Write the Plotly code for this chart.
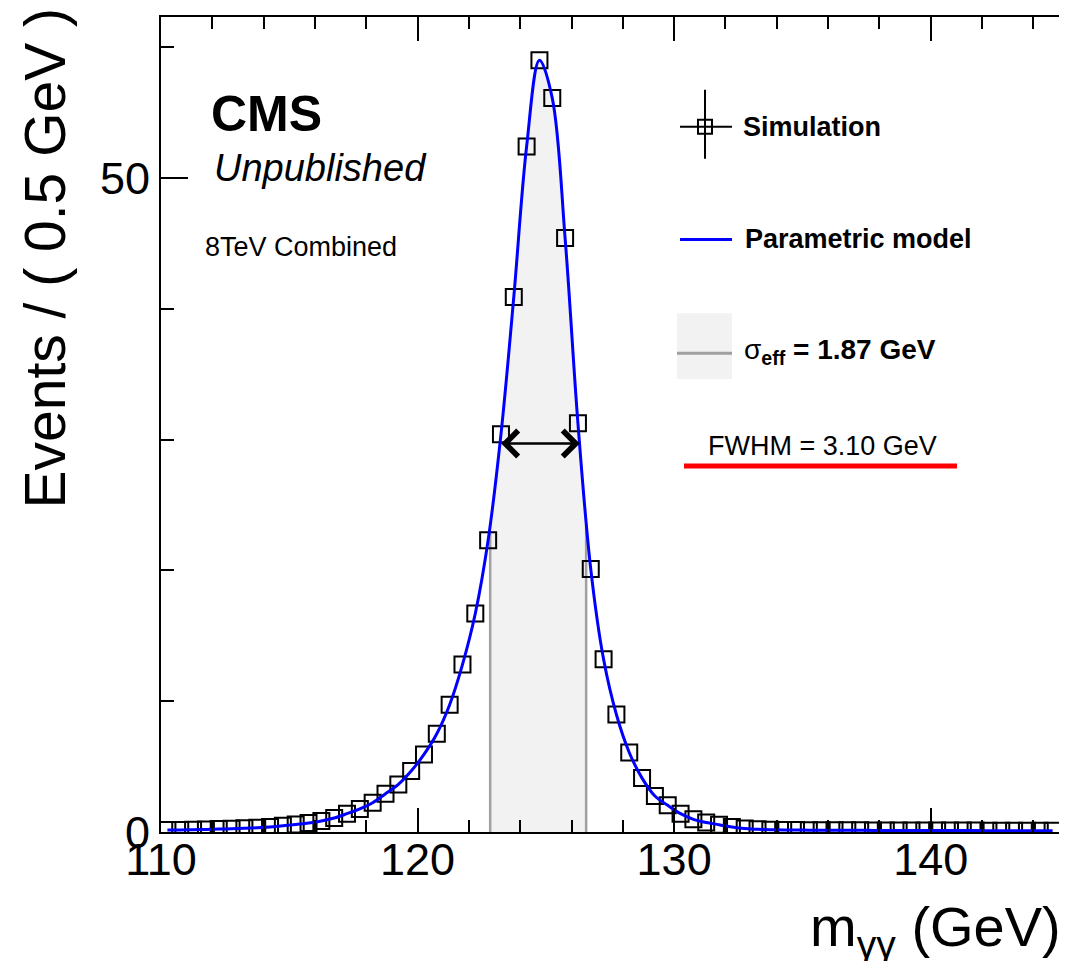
import plotly.graph_objects as go

# ---------------- data ----------------
sim_x = [110.25, 110.75, 111.25, 111.75, 112.25, 112.75, 113.25, 113.75, 114.25, 114.75,
         115.25, 115.75, 116.25, 116.75, 117.25, 117.75, 118.25, 118.75, 119.25, 119.75,
         120.25, 120.75, 121.25, 121.75, 122.25, 122.75, 123.25, 123.75, 124.25, 124.75,
         125.25, 125.75, 126.25, 126.75, 127.25, 127.75, 128.25, 128.75, 129.25, 129.75,
         130.25, 130.75, 131.25, 131.75, 132.25, 132.75, 133.25, 133.75, 134.25, 134.75,
         135.25, 135.75, 136.25, 136.75, 137.25, 137.75, 138.25, 138.75, 139.25, 139.75,
         140.25, 140.75, 141.25, 141.75, 142.25, 142.75, 143.25, 143.75, 144.25, 144.75]
sim_y = [0.15, 0.16, 0.18, 0.20, 0.22, 0.25, 0.28, 0.32, 0.38, 0.47,
         0.58, 0.69, 0.84, 1.07, 1.40, 1.76, 2.24, 2.93, 3.64, 4.66,
         5.93, 7.51, 9.73, 12.8, 16.7, 22.3, 30.4, 40.9, 52.4, 59.0,
         56.1, 45.4, 31.25, 20.1, 13.2, 8.98, 6.08, 4.12, 2.75, 2.04,
         1.40, 0.97, 0.72, 0.56, 0.38, 0.26, 0.21, 0.18, 0.16, 0.15,
         0.14, 0.14, 0.13, 0.13, 0.13, 0.12, 0.12, 0.12, 0.12, 0.11,
         0.11, 0.11, 0.11, 0.11, 0.10, 0.10, 0.10, 0.10, 0.10, 0.10]

sigma_eff_bounds = [122.83, 126.57]     # sigma_eff window (GeV)
sigma_eff_heights = [23.0, 23.5]        # model height at window edges
fwhm_bounds = [123.2, 126.32]           # FWHM arrow ends (GeV)
half_max = 29.7

x_range = [110, 145]
y_range = [0, 62.3]
x_tickvals = [110, 120, 130, 140]
y_tickvals = [0, 50]

legend_sim = "Simulation"
legend_model = "Parametric model"
legend_sigma = "σ<b><sub>eff</sub> = 1.87 GeV</b>"
legend_fwhm = "FWHM = 3.10 GeV"

# ---------------- figure geometry ----------------
# The page body has an 8px margin, so the figure is drawn 8px smaller and
# all screen-pixel positions below are given in window coordinates.
OFF = 8
WIN_W, WIN_H = 1067, 961
W, H = WIN_W - OFF, WIN_H - OFF
L, R, T, B = 161, 1059, 15, 832          # plot area in window pixels
FONT = "Liberation Sans, Arial, Helvetica, sans-serif"


def px(x):
    return (x - L) / (R - L)


def py(y):
    return (B - y) / (B - T)


fig = go.Figure()

# shaded sigma_eff region under model
in_win = [(x, y) for x, y in zip(sim_x, sim_y) if sigma_eff_bounds[0] < x < sigma_eff_bounds[1]]
fill_x = [sigma_eff_bounds[0]] + [p[0] for p in in_win] + [sigma_eff_bounds[1]]
fill_y = [sigma_eff_heights[0]] + [p[1] for p in in_win] + [sigma_eff_heights[1]]
fig.add_trace(go.Scatter(x=fill_x, y=fill_y, mode="lines", line=dict(width=0, shape="spline"),
                         fill="tozeroy", fillcolor="#f2f2f2", hoverinfo="skip", showlegend=False))

# grey edge lines
for xb, hb in zip(sigma_eff_bounds, sigma_eff_heights):
    fig.add_trace(go.Scatter(x=[xb, xb], y=[0, hb], mode="lines",
                             line=dict(color="#a0a0a0", width=2.5), showlegend=False, hoverinfo="skip"))

# simulation markers
fig.add_trace(go.Scatter(x=sim_x, y=sim_y, mode="markers",
                         marker=dict(symbol="square-open", size=16, color="black",
                                     line=dict(color="black", width=2)),
                         showlegend=False))

# parametric model
fig.add_trace(go.Scatter(x=sim_x, y=sim_y, mode="lines",
                         line=dict(color="#0000ff", width=3, shape="spline", smoothing=1.0),
                         showlegend=False))

shapes = []
annotations = []

# FWHM double arrow
annotations.append(dict(x=fwhm_bounds[1], y=half_max, ax=fwhm_bounds[0], ay=half_max,
                        xref="x", yref="y", axref="x", ayref="y", text="",
                        showarrow=True, arrowside="end+start", arrowhead=4, startarrowhead=4,
                        arrowwidth=2.5, arrowsize=2, startarrowsize=2, arrowcolor="black",
                        standoff=0, startstandoff=0))

# ---- legend (drawn manually) ----
# Simulation
shapes.append(dict(type="line", xref="paper", yref="paper", x0=px(680), x1=px(732), y0=py(125), y1=py(125),
                   line=dict(color="black", width=2)))
shapes.append(dict(type="line", xref="paper", yref="paper", x0=px(705), x1=px(705), y0=py(88), y1=py(157),
                   line=dict(color="black", width=2)))
shapes.append(dict(type="rect", xref="paper", yref="paper", x0=px(698), x1=px(712), y0=py(118), y1=py(132),
                   line=dict(color="black", width=2)))
annotations.append(dict(x=px(741), y=py(125), xref="paper", yref="paper", xanchor="left", yanchor="middle",
                        text="<b>" + legend_sim + "</b>", showarrow=False,
                        font=dict(family=FONT, size=27, color="black")))
# Parametric model
shapes.append(dict(type="line", xref="paper", yref="paper", x0=px(680), x1=px(732), y0=py(238), y1=py(238),
                   line=dict(color="#0000ff", width=3)))
annotations.append(dict(x=px(743), y=py(238), xref="paper", yref="paper", xanchor="left", yanchor="middle",
                        text="<b>" + legend_model + "</b>", showarrow=False,
                        font=dict(family=FONT, size=27, color="black")))
# sigma_eff
shapes.append(dict(type="rect", xref="paper", yref="paper", x0=px(677), x1=px(732), y0=py(312), y1=py(378),
                   fillcolor="#f2f2f2", line=dict(width=0)))
shapes.append(dict(type="line", xref="paper", yref="paper", x0=px(677), x1=px(732), y0=py(352), y1=py(352),
                   line=dict(color="#a0a0a0", width=3)))
annotations.append(dict(x=px(742), y=py(350), xref="paper", yref="paper", xanchor="left", yanchor="middle",
                        text=legend_sigma, showarrow=False,
                        font=dict(family=FONT, size=28, color="black")))
# FWHM
annotations.append(dict(x=px(822), y=py(445), xref="paper", yref="paper", xanchor="center", yanchor="middle",
                        text=legend_fwhm, showarrow=False,
                        font=dict(family=FONT, size=27, color="black")))
shapes.append(dict(type="line", xref="paper", yref="paper", x0=px(684), x1=px(957), y0=py(465), y1=py(465),
                   line=dict(color="#ff0000", width=5)))

# ---- CMS labels ----
annotations.append(dict(x=px(209), y=py(112), xref="paper", yref="paper", xanchor="left", yanchor="middle",
                        text="<b>CMS</b>", showarrow=False, font=dict(family=FONT, size=50, color="black")))
annotations.append(dict(x=px(212), y=py(166), xref="paper", yref="paper", xanchor="left", yanchor="middle",
                        text="<i>Unpublished</i>", showarrow=False, font=dict(family=FONT, size=38, color="black")))
annotations.append(dict(x=px(203), y=py(246), xref="paper", yref="paper", xanchor="left", yanchor="middle",
                        text="8TeV Combined", showarrow=False, font=dict(family=FONT, size=27, color="black")))

# ---- axis titles ----
annotations.append(dict(x=px(45), y=py(4), xref="paper", yref="paper", xanchor="center", yanchor="top",
                        text="Events / ( 0.5 GeV )", textangle=-90, showarrow=False,
                        font=dict(family=FONT, size=57, color="black")))
annotations.append(dict(x=px(1063), y=py(893), xref="paper", yref="paper", xanchor="right", yanchor="top",
                        text="m<sub>γγ</sub> (GeV)", showarrow=False,
                        font=dict(family=FONT, size=56, color="black")))

fig.update_layout(
    width=W, height=H,
    margin=dict(l=L - OFF, r=WIN_W - R, t=T - OFF, b=WIN_H - B, pad=0),
    paper_bgcolor="white", plot_bgcolor="white",
    shapes=shapes, annotations=annotations,
    showlegend=False,
    font=dict(family=FONT, color="black"),
)

fig.update_xaxes(range=x_range, tickvals=x_tickvals, ticks="inside", ticklen=24, tickwidth=2,
                 tickcolor="black", showline=True, linecolor="black", linewidth=2, mirror="allticks",
                 showgrid=False, zeroline=False, ticklabelstandoff=-13,
                 tickfont=dict(family=FONT, size=45, color="black"),
                 minor=dict(dtick=2, tick0=110, ticks="inside", ticklen=12, tickwidth=2, tickcolor="black",
                            showgrid=False))
fig.update_yaxes(range=y_range, tickvals=y_tickvals, ticks="inside", ticklen=27, tickwidth=2,
                 tickcolor="black", showline=True, linecolor="black", linewidth=2, mirror=False,
                 showgrid=False, zeroline=False,
                 tickfont=dict(family=FONT, size=45, color="black"),
                 minor=dict(dtick=10, tick0=0, ticks="inside", ticklen=13, tickwidth=2, tickcolor="black",
                            showgrid=False))

fig.write_html("out.html")
